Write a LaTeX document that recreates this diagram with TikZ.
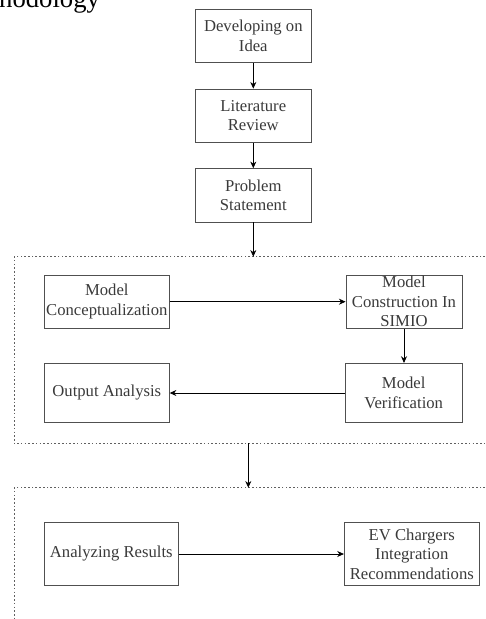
\documentclass[tikz,border=0pt]{standalone}
\usepackage{fontspec}
\setmainfont{Liberation Serif}
\usetikzlibrary{arrows.meta}
\definecolor{boxgray}{HTML}{505050}
\definecolor{txtgray}{HTML}{3A3A3A}
\definecolor{dotgray}{HTML}{606060}
\newcommand{\boxfont}{\fontsize{12.5}{14.6}\selectfont}
\tikzset{
  stepbox/.style={draw=boxgray, line width=0.6pt, text=txtgray, font=\boxfont,
    align=center, inner sep=0pt},
  flow/.style={draw=black, line width=0.6pt, -{Stealth[length=5pt,width=4.5pt]}},
  frame/.style={draw=dotgray, line width=0.6pt, dash pattern=on 1.2pt off 1.6pt},
}
\begin{document}
\begin{tikzpicture}[x=0.75pt,y=-0.75pt]
\useasboundingbox (0,0) rectangle (486,619);
\clip (0,0) rectangle (486,619);
% heading (cut off at the page edge, as in the reference)
\node[anchor=base west, inner sep=0pt, font=\fontsize{20}{24}\selectfont] (head) at (-44,7) {Methodology};
% boxes
\node[stepbox, minimum width=86.5pt, minimum height=40pt] (idea) at (253.3,36) {Developing on\\Idea};
\node[stepbox, minimum width=86.5pt, minimum height=40pt] (lit) at (253.3,115.7) {Literature\\Review};
\node[stepbox, minimum width=86.5pt, minimum height=40pt] (prob) at (253.3,195.3) {Problem\\Statement};
\node[stepbox, minimum width=93.75pt, minimum height=40pt] (mc) at (106.8,301.7) {Model\\Conceptualization};
\node[stepbox, minimum width=87pt, minimum height=40pt] (mcs) at (404,301.7) {Model\\Construction In\\SIMIO};
\node[stepbox, minimum width=87.5pt, minimum height=44.5pt] (mv) at (403.7,393) {Model\\Verification};
\node[stepbox, minimum width=93.75pt, minimum height=44.5pt] (oa) at (106.8,393) {Output Analysis};
\node[stepbox, minimum width=100.5pt, minimum height=47pt] (ar) at (111.3,554) {Analyzing Results};
\node[stepbox, minimum width=101.25pt, minimum height=47pt] (ev) at (411.8,554) {EV Chargers\\Integration\\Recommendations};
% frames
\coordinate (f1top) at (253.3,256.7);
\coordinate (f1bot) at (248.3,443.3);
\coordinate (f2top) at (248.3,487.7);
\draw[frame] (500,256.7) -- (14,256.7) -- (14,443.3) -- (500,443.3);
\draw[frame] (500,487.7) -- (14,487.7) -- (14,640);
% connectors
\draw[flow] (idea) -- (lit);
\draw[flow] (lit) -- (prob);
\draw[flow] (prob) -- (f1top);
\draw[flow] (mc) -- (mcs);
\draw[flow] (mcs.south) -- (mcs.south |- mv.north);
\draw[flow] (mv) -- (oa);
\draw[flow] (f1bot) -- (f2top);
\draw[flow] (ar) -- (ev);
\end{tikzpicture}
\end{document}
